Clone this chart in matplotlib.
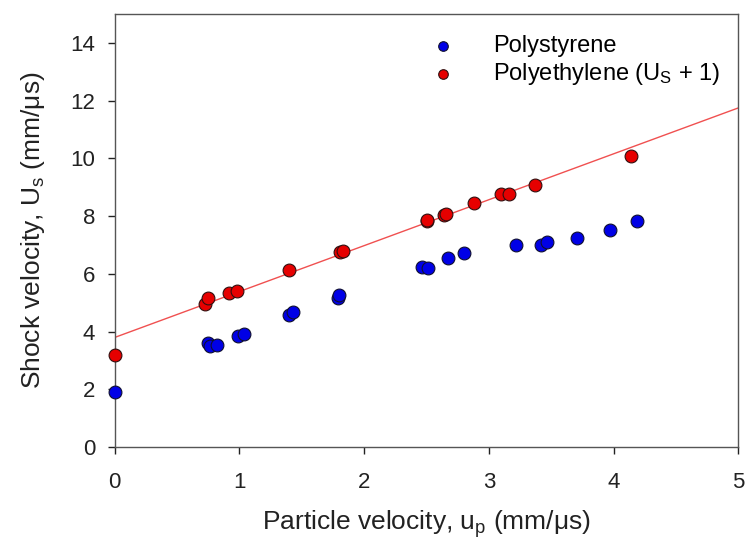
import matplotlib
matplotlib.use("Agg")
import matplotlib.pyplot as plt

plt.rcParams['font.family'] = ['Liberation Sans', 'DejaVu Sans']
plt.rcParams['mathtext.fontset'] = 'custom'
plt.rcParams['mathtext.rm'] = 'Liberation Sans'
plt.rcParams['mathtext.it'] = 'Liberation Sans'

ps_up = [0.0, 0.75, 0.76, 0.82, 0.99, 1.04, 1.40, 1.43, 1.79, 1.80,
         2.46, 2.51, 2.67, 2.80, 3.22, 3.42, 3.47, 3.71, 3.97, 4.19]
ps_us = [1.90, 3.61, 3.49, 3.53, 3.85, 3.92, 4.58, 4.67, 5.18, 5.28,
         6.24, 6.22, 6.56, 6.74, 6.99, 7.00, 7.09, 7.26, 7.53, 7.85]

pe_up = [0.0, 0.72, 0.75, 0.92, 0.98, 1.40, 1.81, 1.83, 2.50, 2.50,
         2.64, 2.66, 2.88, 3.10, 3.16, 3.37, 4.14]
pe_us = [3.18, 4.97, 5.18, 5.35, 5.41, 6.15, 6.76, 6.78, 7.83, 7.88,
         8.05, 8.09, 8.44, 8.77, 8.77, 9.09, 10.07]

fit_x = [0.0, 5.0]
fit_y = [3.80, 11.75]

xticks = [0, 1, 2, 3, 4, 5]
yticks = [0, 2, 4, 6, 8, 10, 12, 14]

fig = plt.figure(figsize=(7.45, 5.42), dpi=100)
ax = fig.add_axes([0.154, 0.175, 0.837, 0.799])

ax.plot(fit_x, fit_y, color='#f05050', lw=1.0, zorder=2)
ax.scatter(ps_up, ps_us, s=85, c='#0000e6', edgecolors='#101030', linewidths=0.8,
           zorder=3, clip_on=False, label='Polystyrene')
ax.scatter(pe_up, pe_us, s=85, c='#e60000', edgecolors='#301010', linewidths=0.8,
           zorder=3, clip_on=False, label='Polyethylene (U$_\\mathregular{S}$ + 1)')

ax.set_xlim(0, 5)
ax.set_ylim(0, 15)
ax.set_xticks(xticks)
ax.set_yticks(yticks)
ax.tick_params(direction='out', length=5, width=1, labelsize=16, colors='#222222')
ax.tick_params(axis='x', pad=13)
ax.tick_params(axis='y', pad=9)
for sp in ax.spines.values():
    sp.set_color('#555555')
    sp.set_linewidth(1.0)

ax.set_xlabel('Particle velocity, u$_\\mathregular{p}$ (mm/\u03bcs)', fontsize=19, labelpad=11, color='#222222')
ax.set_ylabel('Shock velocity, U$_\\mathregular{s}$ (mm/\u03bcs)', fontsize=19, labelpad=17, color='#222222')

leg = ax.legend(loc='upper right', bbox_to_anchor=(1.005, 1.0), frameon=False, fontsize=17,
                handletextpad=1.1, markerscale=0.75, labelspacing=0.15)

fig.savefig('out.png', dpi=100)
